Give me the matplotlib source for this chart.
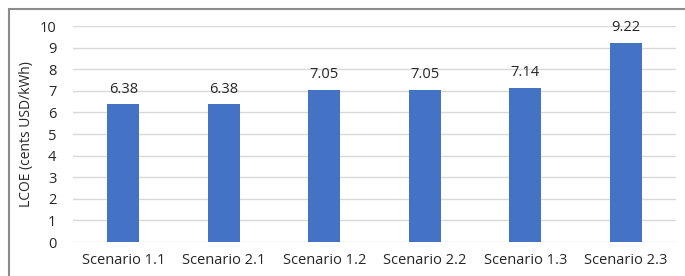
import matplotlib.pyplot as plt
from matplotlib.patches import Rectangle

scenarios = ['Scenario 1.1', 'Scenario 2.1', 'Scenario 1.2', 'Scenario 2.2', 'Scenario 1.3', 'Scenario 2.3']
lcoe = [6.38, 6.38, 7.05, 7.05, 7.14, 9.22]
y_ticks = list(range(0, 11))

plt.rcParams['font.family'] = ['Open Sans', 'DejaVu Sans']

fig = plt.figure(figsize=(6.85, 2.76), dpi=100)
ax = fig.add_axes([73 / 685, 1 - 242 / 276, (676 - 73) / 685, (242 - 26) / 276])

# outer frame like the report figure border (open on right and bottom)
fig.patches.append(Rectangle((9 / 685, -0.1), 1.2, (276 - 9) / 276 + 0.1,
                             transform=fig.transFigure, fill=False,
                             edgecolor='#8c8c8c', lw=1.5))

x = range(len(scenarios))
ax.bar(x, lcoe, width=0.32, color='#4472C4', zorder=3)
for i, v in zip(x, lcoe):
    ax.text(i, v + 0.35, f'{v:.2f}', ha='center', va='bottom', fontsize=10.5, color='#262626')

ax.set_xlim(-0.5, len(scenarios) - 0.5)
ax.set_ylim(0, 10)
ax.set_yticks(y_ticks)
ax.set_xticks(list(x))
ax.set_xticklabels(scenarios)
ax.tick_params(axis='both', length=0, labelsize=10.5, colors='#262626')
ax.tick_params(axis='x', pad=8)
ax.tick_params(axis='y', pad=12)
ax.grid(axis='y', color='#d9d9d9', lw=1, zorder=0)
for s in ax.spines.values():
    s.set_visible(False)
ax.set_ylabel('LCOE (cents USD/kWh)', fontsize=10, color='#262626', labelpad=4)

fig.savefig('out.png', dpi=100)
